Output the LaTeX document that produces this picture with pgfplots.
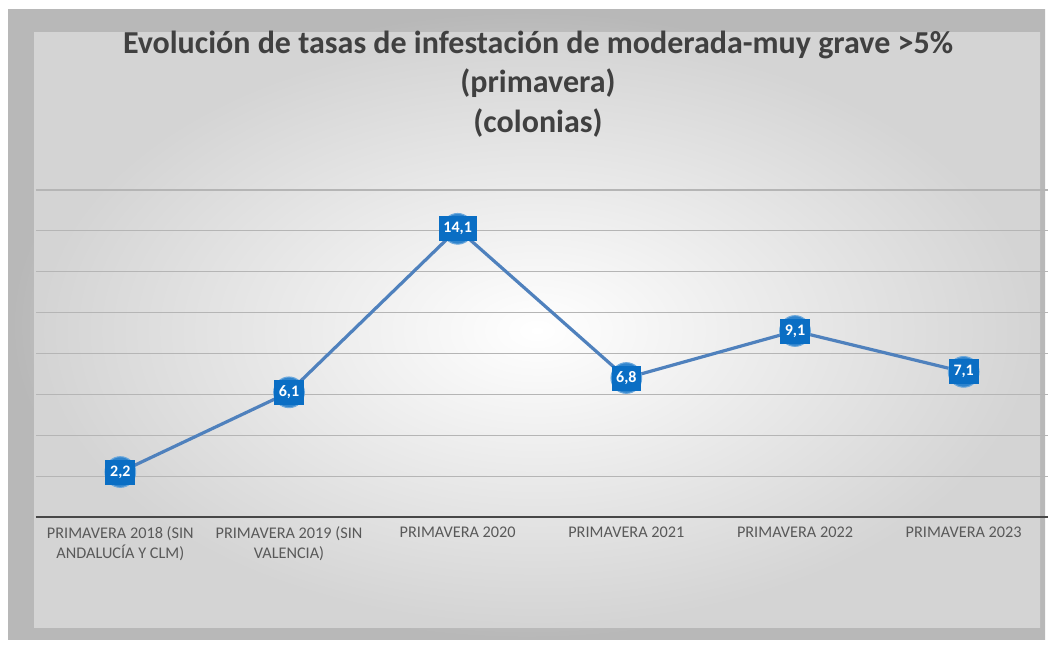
\documentclass[border=0pt]{standalone}
\usepackage{pgfplots}
\pgfplotsset{compat=1.18}
\usepackage{fontspec}
\setmainfont{Carlito}
\definecolor{lineblue}{HTML}{4F81BD}
\definecolor{boxblue}{HTML}{0A6EC4}
\definecolor{titlegray}{HTML}{404040}
\definecolor{labgray}{HTML}{595959}
\definecolor{gridgray}{HTML}{B5B5B5}
\begin{document}
\begin{tikzpicture}
\begin{scope}[x=0.75pt,y=0.75pt]
\useasboundingbox (0,0) rectangle (1052,648);
\fill[white] (0,0) rectangle (1052,648);
\shade[inner color=white, outer color=black!28] (8,8) rectangle (1045,638);
\shade[inner color=white, outer color=black!17] (34,20) rectangle (1040,615);
\node[font=\bfseries\fontsize{24}{29.5}\selectfont, text=titlegray, align=center] at (538,564)
  {Evolución de tasas de infestación de moderada-muy grave >5\%\\(primavera)\\(colonias)};
\end{scope}
\begin{axis}[
  at={(27pt,98.25pt)}, anchor=south west,
  scale only axis, width=759pt, height=245.25pt,
  xmin=-0.5, xmax=5.5, ymin=0, ymax=16,
  axis line style={draw=none},
  axis x line*=bottom,
  ytick={2,4,...,16}, yticklabels={},
  ymajorgrids, grid style={gridgray, line width=0.9pt},
  major tick length=0pt,
  xtick={0,...,5},
  xticklabels={{PRIMAVERA 2018 (SIN\\ANDALUCÍA Y CLM)},{PRIMAVERA 2019 (SIN\\VALENCIA)},{PRIMAVERA 2020},{PRIMAVERA 2021},{PRIMAVERA 2022},{PRIMAVERA 2023}},
  xticklabel style={font=\fontsize{12.2}{14.5}\selectfont, text=labgray, align=center, anchor=north, yshift=-4pt},
  clip=false,
  nodes near coords,
  point meta=explicit symbolic,
  every node near coord/.append style={anchor=center, font=\bfseries\fontsize{12}{14}\selectfont, text=white, fill=boxblue, inner xsep=3.5pt, minimum height=18.75pt, inner ysep=0pt},
]
\draw[labgray!80!black, line width=1.6pt] (axis cs:-0.5,0) -- (axis cs:5.5,0);
\addplot[lineblue, line width=2.4pt, mark=*, mark size=11.5pt, mark options={fill=boxblue!85!white, draw=boxblue!60!white, line width=0.8pt}]
  table[meta=lbl] {
x y lbl
0 2.2 {2,2}
1 6.1 {6,1}
2 14.1 {14,1}
3 6.8 {6,8}
4 9.1 {9,1}
5 7.1 {7,1}
};
\end{axis}
\end{tikzpicture}
\end{document}
